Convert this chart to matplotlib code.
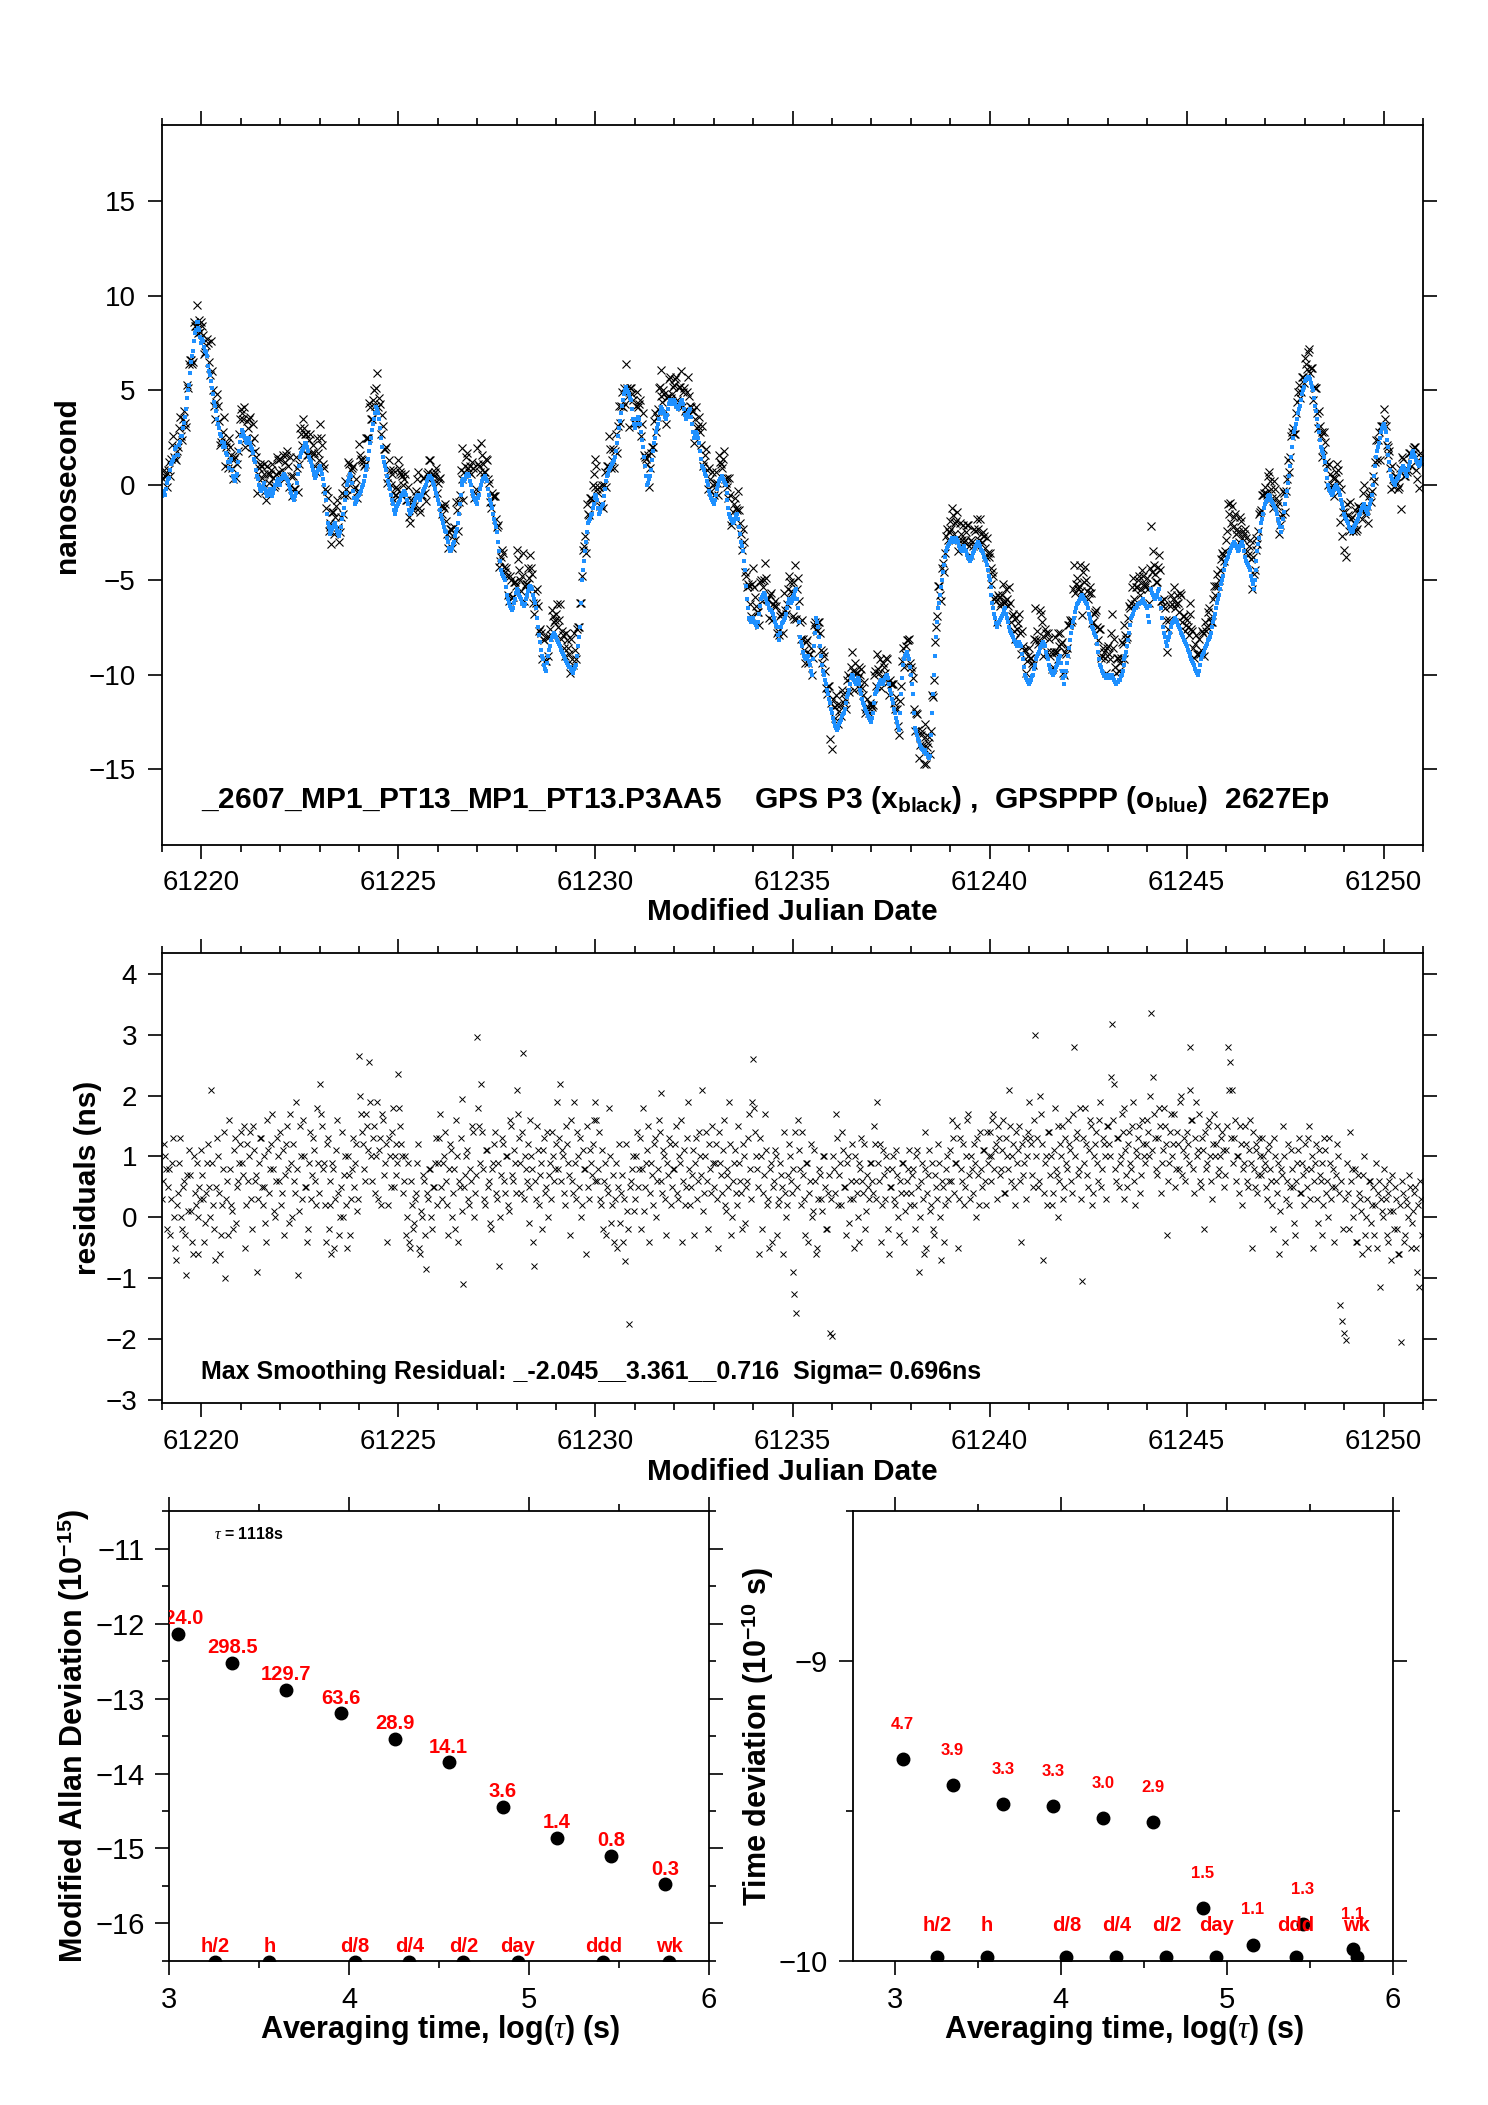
import numpy as np
import matplotlib
matplotlib.use("Agg")
import matplotlib.pyplot as plt
from matplotlib import font_manager as fm
from matplotlib.ticker import MultipleLocator
from matplotlib.transforms import offset_copy

names = {f.name for f in fm.fontManager.ttflist}
SANS = 'Liberation Sans' if 'Liberation Sans' in names else 'DejaVu Sans'
NARROW = 'Liberation Sans Narrow' if 'Liberation Sans Narrow' in names else SANS

plt.rcParams['font.family'] = [SANS, 'DejaVu Sans']
plt.rcParams['mathtext.fontset'] = 'custom'
plt.rcParams['mathtext.rm'] = SANS + ':bold'
plt.rcParams['mathtext.bf'] = SANS + ':bold'
plt.rcParams['mathtext.it'] = 'Liberation Serif:italic'

# ---- data -------------------------------------------------------------
mjd_start = 61219.0
mjd_step = 0.05   # days between samples, a second set sits half a step later

# GPSPPP clock difference (ns), one row per day
ppp_ns = [
    -0.6, -0.4, -0.2, 0.3, 0.8, 1.2, 1.5, 2.0, 1.6, 2.3, 2.6, 3.3, 4.0, 5.0, 5.9, 6.8, 7.6, 8.2, 8.6, 8.2,
    7.5, 7.6, 7.1, 6.8, 6.0, 5.5, 4.8, 4.2, 3.5, 3.0, 2.6, 2.0, 2.0, 1.6, 0.9, 1.4, 0.5, 0.2, 0.6, 1.8,
    2.6, 2.8, 2.5, 2.2, 2.5, 2.0, 1.7, 1.2, 0.5, 0.0, -0.3, -0.1, 0.1, -0.4, -0.5, -0.2, -0.6, -0.2, 0.0, 0.3,
    0.0, 0.4, 0.6, 0.4, 0.2, -0.2, -0.6, -0.8, -0.4, 0.6, 1.5, 1.8, 2.0, 2.2, 1.8, 1.3, 1.0, 0.6, 0.5, 0.8,
    1.0, 0.6, 0.0, -0.8, -2.0, -2.4, -2.5, -2.2, -2.0, -2.4, -2.7, -2.2, -1.5, -0.8, 0.0, 0.4, 0.5, -0.3, -1.0, -0.8,
    -0.5, -0.3, 0.0, 0.5, 1.0, 1.8, 2.5, 3.2, 3.8, 4.0, 3.5, 2.5, 1.5, 1.0, 0.5, 0.0, -0.5, -1.0, -1.5, -1.2,
    -1.0, -0.8, -0.5, -0.3, -0.5, -1.0, -1.5, -1.3, -1.0, -0.7, -0.5, -0.8, -0.5, -0.2, 0.0, 0.4, 0.5, 0.3, 0.0, -0.4,
    -0.8, -1.3, -1.8, -2.2, -2.5, -3.0, -3.5, -3.3, -3.0, -2.5, -2.0, -1.0, 0.0, 0.3, 0.3, 0.6, 0.5, 0.0, -0.5, -0.8,
    -1.0, -0.5, 0.0, 0.3, 0.5, 0.2, -0.5, -1.0, -1.5, -2.0, -2.5, -3.5, -4.5, -4.8, -5.0, -5.8, -6.2, -6.5, -6.5, -6.0,
    -5.5, -5.8, -6.0, -6.3, -6.3, -5.8, -5.5, -5.3, -5.5, -6.0, -6.5, -7.5, -8.3, -9.0, -9.5, -9.8, -9.0, -8.5, -8.0, -7.8,
    -8.0, -8.3, -8.5, -8.8, -9.0, -9.3, -9.5, -9.6, -9.8, -9.7, -9.5, -8.5, -7.5, -5.0, -4.0, -3.0, -2.0, -1.8, -1.5, -1.0,
    -0.5, -0.8, -1.5, -1.2, -1.0, -0.2, 0.5, 0.8, 1.0, 1.2, 1.5, 2.2, 3.0, 3.8, 4.5, 5.0, 5.0, 4.8, 4.5, 3.5,
    3.0, 3.5, 3.5, 2.8, 2.0, 1.0, 0.0, 0.3, 0.8, 1.8, 2.5, 3.0, 3.5, 4.0, 4.0, 3.8, 3.5, 4.0, 4.5, 4.3,
    4.5, 4.2, 4.0, 4.3, 4.5, 4.0, 3.5, 3.8, 4.0, 3.2, 2.5, 2.8, 2.5, 1.8, 1.0, 0.8, 0.5, 0.0, -0.5, -0.8,
    -1.0, -0.5, 0.0, 0.3, 0.5, 0.2, 0.0, -0.8, -1.5, -1.8, -2.0, -1.8, -1.5, -2.2, -3.0, -3.5, -4.5, -6.0, -7.0, -7.2,
    -7.0, -7.3, -7.5, -6.8, -6.0, -5.8, -5.8, -6.2, -6.5, -6.6, -6.8, -7.2, -7.5, -8.2, -7.5, -7.2, -7.0, -6.5, -6.0, -6.2,
    -6.0, -5.8, -5.5, -6.5, -8.0, -8.5, -9.0, -9.2, -9.0, -9.5, -10.0, -8.5, -7.0, -7.5, -8.5, -9.5, -10.0, -10.5, -11.0, -11.5,
    -12.0, -12.5, -12.8, -12.8, -12.5, -12.2, -12.0, -11.5, -11.0, -10.5, -10.0, -10.3, -10.5, -10.2, -10.5, -11.0, -11.5, -11.8, -12.0, -12.3,
    -12.5, -12.0, -11.0, -10.8, -10.5, -10.3, -10.5, -10.2, -10.0, -10.5, -11.0, -11.5, -12.0, -12.5, -12.9, -11.0, -9.5, -9.0, -8.8, -9.2,
    -10.0, -11.0, -12.8, -13.2, -13.5, -13.8, -14.0, -14.0, -14.2, -14.3, -14.3, -12.0, -10.0, -8.0, -6.5, -5.8, -5.0, -4.2, -3.5, -3.2,
    -3.0, -2.8, -3.0, -2.8, -3.0, -3.3, -3.5, -3.2, -3.5, -3.8, -4.0, -3.8, -3.5, -3.2, -3.0, -3.2, -3.5, -3.8, -4.0, -4.5,
    -5.0, -5.8, -6.5, -7.0, -7.5, -7.2, -7.0, -6.8, -6.5, -7.0, -7.5, -7.8, -8.0, -8.3, -8.5, -8.3, -8.5, -9.2, -10.0, -10.3,
    -10.5, -10.3, -10.0, -9.5, -9.0, -8.8, -8.5, -8.3, -8.5, -9.0, -9.5, -9.8, -10.0, -9.8, -9.5, -9.2, -9.0, -9.8, -10.5, -9.8,
    -9.0, -8.2, -7.5, -7.0, -6.5, -6.2, -6.0, -5.8, -6.0, -6.2, -6.5, -7.0, -7.5, -7.8, -8.0, -8.8, -9.5, -9.8, -10.0, -10.2,
    -10.0, -10.2, -10.0, -10.3, -10.5, -10.4, -10.3, -10.0, -9.5, -9.0, -8.5, -7.8, -7.0, -6.8, -6.5, -6.4, -6.3, -6.2, -6.0, -6.3,
    -6.5, -7.2, -5.5, -5.8, -6.0, -5.8, -5.5, -6.5, -7.5, -8.0, -8.5, -8.0, -7.5, -7.2, -7.0, -7.2, -7.5, -7.8, -8.0, -8.3,
    -8.5, -8.8, -9.0, -9.3, -9.5, -9.8, -10.0, -9.5, -9.0, -8.8, -8.5, -8.2, -8.0, -7.5, -7.0, -6.5, -6.0, -5.5, -5.0, -4.5,
    -4.0, -3.8, -3.5, -3.2, -3.0, -3.2, -3.5, -3.2, -3.0, -3.5, -4.0, -4.2, -4.5, -5.0, -5.5, -4.5, -3.5, -2.8, -2.0, -1.5,
    -1.0, -0.8, -0.5, -0.8, -1.0, -1.2, -1.5, -2.0, -2.5, -1.8, -1.0, -0.3, 0.5, 1.5, 2.5, 3.0, 3.5, 4.0, 4.5, 5.0,
    5.5, 5.6, 5.7, 5.4, 5.0, 4.2, 3.5, 2.8, 2.0, 1.8, 1.5, 0.8, 0.0, -0.3, -0.5, -0.2, 0.0, -0.2, -0.5, -1.0,
    -1.5, -1.8, -2.0, -2.3, -2.5, -2.2, -2.0, -1.8, -1.5, -1.2, -1.0, -1.3, -1.5, -1.0, -0.5, 0.5, 1.5, 2.0, 2.5, 3.0,
    3.2, 2.8, 2.0, 1.2, 0.5, 0.2, 0.0, 0.3, 0.5, 0.8, 1.0, 0.8, 0.5, 1.0, 1.5, 1.8, 1.5, 1.2, 1.0, 1.2,
]

# GPSPPP samples half a step later
ppp_mid_ns = [
    -0.3, -0.5, 0.1, 0.4, 1.1, 1.3, 1.9, 1.6, 2.1, 2.6, 3.0, 3.6, 4.6, 5.3, 6.5, 7.1, 8.0, 8.6, 8.3, 7.8,
    7.7, 7.3, 7.0, 6.3, 5.8, 5.1, 4.4, 3.9, 3.2, 2.7, 2.3, 2.2, 1.7, 1.2, 1.2, 0.8, 0.3, 0.5, 1.2, 2.3,
    2.9, 2.6, 2.3, 2.4, 2.2, 1.9, 1.4, 0.8, 0.3, -0.2, -0.1, 0.1, -0.2, -0.6, -0.3, -0.4, -0.4, 0.0, 0.2, 0.1,
    0.3, 0.5, 0.5, 0.3, 0.0, -0.4, -0.7, -0.6, 0.1, 1.0, 1.7, 1.9, 2.2, 2.0, 1.5, 1.2, 0.8, 0.4, 0.7, 0.9,
    0.8, 0.3, -0.4, -1.5, -2.2, -2.6, -2.3, -2.1, -2.2, -2.6, -2.5, -1.8, -1.2, -0.4, 0.2, 0.6, 0.1, -0.7, -0.9, -0.6,
    -0.4, -0.1, 0.2, 0.8, 1.4, 2.2, 2.9, 3.5, 4.1, 3.8, 3.0, 2.0, 1.2, 0.8, 0.2, -0.2, -0.8, -1.3, -1.3, -1.1,
    -0.9, -0.6, -0.4, -0.4, -0.8, -1.3, -1.4, -1.1, -0.8, -0.6, -0.7, -0.6, -0.3, -0.1, 0.2, 0.5, 0.4, 0.1, -0.2, -0.6,
    -1.0, -1.6, -2.0, -2.4, -2.8, -3.3, -3.4, -3.1, -2.7, -2.3, -1.5, -0.5, 0.2, 0.2, 0.5, 0.6, 0.2, -0.3, -0.7, -0.9,
    -0.7, -0.2, 0.2, 0.4, 0.3, -0.2, -0.8, -1.2, -1.8, -2.2, -3.0, -4.0, -4.7, -4.9, -5.4, -6.0, -6.4, -6.6, -6.2, -5.7,
    -5.6, -5.9, -6.2, -6.4, -6.0, -5.6, -5.4, -5.4, -5.8, -6.2, -7.0, -7.9, -8.7, -9.2, -9.7, -9.4, -8.7, -8.2, -7.9, -7.9,
    -8.2, -8.4, -8.7, -8.9, -9.2, -9.4, -9.6, -9.7, -9.9, -9.6, -9.0, -8.0, -6.2, -4.5, -3.5, -2.5, -1.9, -1.6, -1.2, -0.7,
    -0.6, -1.2, -1.4, -1.1, -0.6, 0.2, 0.6, 0.9, 1.1, 1.3, 1.8, 2.6, 3.4, 4.2, 4.8, 5.2, 4.9, 4.6, 4.0, 3.2,
    3.2, 3.6, 3.2, 2.4, 1.5, 0.5, 0.1, 0.5, 1.3, 2.2, 2.8, 3.2, 3.8, 4.1, 3.9, 3.6, 3.7, 4.3, 4.4, 4.4,
    4.4, 4.1, 4.2, 4.4, 4.3, 3.7, 3.6, 3.9, 3.6, 2.8, 2.6, 2.7, 2.2, 1.4, 0.9, 0.6, 0.2, -0.3, -0.7, -0.9,
    -0.8, -0.2, 0.2, 0.4, 0.3, 0.1, -0.4, -1.2, -1.7, -1.9, -1.9, -1.6, -1.8, -2.6, -3.2, -4.0, -5.3, -6.5, -7.1, -7.1,
    -7.2, -7.4, -7.2, -6.4, -5.9, -5.7, -6.0, -6.3, -6.6, -6.7, -7.0, -7.4, -7.9, -7.8, -7.3, -7.1, -6.8, -6.2, -6.1, -6.1,
    -5.9, -5.6, -6.0, -7.2, -8.3, -8.8, -9.1, -9.1, -9.3, -9.8, -9.2, -7.8, -7.2, -8.0, -9.0, -9.8, -10.3, -10.8, -11.3, -11.8,
    -12.3, -12.7, -12.9, -12.6, -12.4, -12.1, -11.8, -11.2, -10.8, -10.2, -10.1, -10.4, -10.3, -10.3, -10.8, -11.3, -11.6, -11.9, -12.2, -12.4,
    -12.3, -11.5, -10.9, -10.6, -10.4, -10.4, -10.3, -10.1, -10.2, -10.8, -11.3, -11.8, -12.3, -12.7, -12.0, -10.2, -9.2, -8.9, -9.0, -9.6,
    -10.5, -12.0, -13.0, -13.4, -13.7, -13.9, -14.1, -14.1, -14.2, -14.4, -13.2, -11.0, -9.0, -7.2, -6.2, -5.4, -4.6, -3.8, -3.3, -3.1,
    -2.9, -2.9, -2.9, -2.9, -3.2, -3.4, -3.3, -3.4, -3.7, -3.9, -3.9, -3.6, -3.3, -3.1, -3.1, -3.4, -3.6, -3.9, -4.2, -4.8,
    -5.4, -6.2, -6.8, -7.3, -7.3, -7.1, -6.9, -6.6, -6.8, -7.2, -7.7, -7.9, -8.2, -8.4, -8.4, -8.4, -8.9, -9.6, -10.2, -10.4,
    -10.4, -10.1, -9.7, -9.2, -8.9, -8.6, -8.4, -8.4, -8.8, -9.2, -9.7, -9.9, -9.9, -9.6, -9.3, -9.1, -9.4, -10.2, -10.1, -9.4,
    -8.6, -7.8, -7.2, -6.7, -6.3, -6.1, -5.9, -5.9, -6.1, -6.3, -6.8, -7.2, -7.6, -7.9, -8.4, -9.2, -9.6, -9.9, -10.1, -10.1,
    -10.1, -10.1, -10.2, -10.4, -10.4, -10.3, -10.1, -9.8, -9.2, -8.8, -8.2, -7.4, -6.9, -6.6, -6.5, -6.3, -6.2, -6.1, -6.2, -6.4,
    -6.9, -6.4, -5.7, -5.9, -5.9, -5.6, -6.0, -7.0, -7.8, -8.3, -8.2, -7.8, -7.3, -7.1, -7.1, -7.4, -7.6, -7.9, -8.2, -8.4,
    -8.7, -8.9, -9.2, -9.4, -9.7, -9.9, -9.8, -9.2, -8.9, -8.6, -8.4, -8.1, -7.8, -7.2, -6.8, -6.2, -5.8, -5.2, -4.8, -4.2,
    -3.9, -3.6, -3.3, -3.1, -3.1, -3.3, -3.4, -3.1, -3.2, -3.8, -4.1, -4.3, -4.8, -5.2, -5.0, -4.0, -3.1, -2.4, -1.8, -1.2,
    -0.9, -0.6, -0.6, -0.9, -1.1, -1.3, -1.8, -2.2, -2.2, -1.4, -0.6, 0.1, 1.0, 2.0, 2.8, 3.2, 3.8, 4.2, 4.8, 5.2,
    5.6, 5.7, 5.6, 5.2, 4.6, 3.9, 3.1, 2.4, 1.9, 1.7, 1.2, 0.4, -0.2, -0.4, -0.4, -0.1, -0.1, -0.3, -0.8, -1.2,
    -1.7, -1.9, -2.2, -2.4, -2.4, -2.1, -1.9, -1.6, -1.3, -1.1, -1.2, -1.4, -1.2, -0.8, 0.0, 1.0, 1.8, 2.2, 2.8, 3.1,
    3.0, 2.4, 1.6, 0.8, 0.3, 0.1, 0.2, 0.4, 0.7, 0.9, 0.9, 0.6, 0.8, 1.2, 1.7, 1.6, 1.3, 1.1, 1.1, 1.4,
]

# P3 minus PPP residuals (ns) at the ppp_ns times
resid_ns = [
    0.3, 1.2, 0.8, 0.5, -0.3, 0.9, 0.0, -0.7, 0.4, 1.3, -0.2, 0.6, -0.95, 0.1, 0.7, -0.4, 1.0, 0.2, -0.6, 0.5,
    1.1, 0.3, -0.1, 0.9, 0.5, 2.1, 0.2, -0.7, 1.3, 0.4, -0.3, 0.8, -1.0, 0.6, 1.6, 0.2, -0.2, 1.3, 0.5, 0.9,
    1.4, 0.7, -0.5, 1.2, 1.0, 0.3, 1.5, 0.6, -0.9, 0.9, 1.3, 0.2, 0.5, -0.4, 1.1, 0.8, 1.7, 0.1, 0.6, 1.0,
    1.4, 0.4, -0.3, 1.2, 0.8, 1.7, 0.0, 0.6, 1.9, -0.95, 1.5, 0.3, 1.0, 0.5, -0.2, 1.4, 0.7, 1.1, 0.2, 0.9,
    2.2, 1.5, 0.9, -0.4, 1.3, 0.2, -0.6, 0.8, 0.3, 1.6, -0.3, 0.5, 0.0, 1.0, -0.5, 0.7, 0.3, 1.3, 0.9, 0.1,
    2.65, 1.7, 1.2, 0.6, 1.5, 2.55, 1.0, 1.3, 0.4, 1.9, 1.1, 0.2, 1.6, 0.9, -0.4, 1.3, 0.5, 1.8, 1.0, 0.7,
    2.35, 1.5, 1.0, 0.6, -0.3, 0.9, -0.5, 0.2, -0.1, 0.4, 1.2, -0.6, 0.0, 0.6, -0.85, 0.3, 0.8, -0.2, 0.5, 1.3,
    0.9, 1.7, 0.3, 1.0, 0.6, -0.3, 1.2, 0.0, 0.8, 1.6, -0.4, 0.5, 1.95, -1.1, 0.7, 1.1, 0.2, 0.6, 1.4, 0.4,
    2.97, 1.5, 2.2, 0.8, 0.2, 1.1, 0.6, -0.2, 0.9, 1.4, 0.3, -0.8, 0.7, 1.2, 0.4, 1.0, 0.1, 1.5, 0.6, 0.9,
    2.1, 1.3, 0.4, 2.7, 1.0, 0.6, -0.1, 1.6, 0.8, -0.8, 0.3, 1.1, 0.7, -0.2, 1.3, 0.5, 0.0, 0.9, 1.4, 0.6,
    1.2, 0.8, 2.2, 1.1, 0.4, 1.5, 0.9, -0.3, 0.6, 1.9, 0.3, 1.0, 1.3, 0.2, 0.8, -0.6, 0.5, 1.1, 0.7, 1.6,
    1.9, 0.6, 1.4, 0.2, -0.2, 0.9, 0.5, 1.8, -0.1, 0.7, 0.3, -0.5, 1.2, 0.4, -0.4, -0.72, 0.1, -1.75, 0.6, 1.0,
    0.3, 1.4, 0.8, -0.2, 1.8, 0.5, 1.1, -0.4, 0.9, 0.2, 1.3, 0.6, 1.6, 2.05, 0.4, 1.0, -0.3, 0.7, 1.2, 0.5,
    0.8, 1.5, 0.3, 0.9, -0.4, 1.1, 0.5, 1.9, 0.2, 0.7, -0.3, 1.3, 0.6, 1.0, 2.1, 0.4, 1.4, -0.2, 0.8, 1.5,
    0.5, 1.2, -0.5, 0.9, 0.4, 1.6, 0.1, 0.7, 1.9, -0.3, 0.6, 1.1, 0.2, 0.9, 0.4, 1.2, -0.1, 0.6, 1.7, 0.3,
    2.6, 1.4, 0.8, -0.6, 1.0, 0.4, 1.7, 0.2, -0.5, 0.9, 0.5, 1.1, -0.3, 0.3, 0.7, -0.6, 0.4, 0.2, 1.2, 0.6,
    -0.9, -1.26, -1.58, 1.6, 0.8, 1.4, 0.3, 0.9, -0.4, 0.6, 0.0, 1.1, -0.6, 0.3, 0.7, 0.1, 1.0, -0.2, 0.4, -1.9,
    -1.95, 0.8, 1.7, 0.2, 0.9, 1.4, 0.5, -0.3, 1.0, 0.3, 1.2, -0.5, 0.6, 0.0, 0.9, 1.3, 0.4, -0.2, 0.7, 0.3,
    0.9, 0.4, 1.2, 1.9, 0.6, -0.4, 1.1, 0.3, 0.8, -0.6, 0.5, 1.0, 0.2, 0.7, -0.3, 0.4, 0.9, 0.1, 0.6, 1.1,
    0.4, 0.8, -0.2, 1.1, -0.9, 0.6, 0.3, 1.4, -0.5, 0.7, 0.1, 0.9, -0.3, 0.5, 1.2, 0.0, 0.6, -0.4, 0.8, 0.3,
    1.1, 1.6, 0.4, 0.9, -0.5, 1.3, 0.6, 0.2, 1.0, 1.7, 0.3, 0.8, 1.2, 0.0, 0.7, 1.4, 0.5, 1.1, 0.2, 0.9,
    1.4, 0.6, 1.7, 1.1, 0.3, 1.3, 0.8, 1.6, 0.4, 1.0, 2.1, 0.6, 1.2, 0.2, 0.9, 1.5, -0.4, 0.7, 1.3, 1.0,
    1.9, 1.2, 0.5, 3.0, 1.3, 0.6, 1.7, -0.7, 0.9, 0.2, 1.4, 1.0, 0.4, 1.8, 0.7, 0.0, 1.2, 1.5, 0.5, 0.9,
    1.6, 1.1, 0.4, 2.8, 1.3, 0.7, 1.8, -1.05, 0.9, 1.2, 0.5, 1.6, 0.2, 1.0, 1.4, 0.6, 1.9, 0.8, 1.2, 0.3,
    1.5, 1.0, 3.18, 2.2, 0.6, 1.3, 0.9, 1.7, 0.3, 1.1, 0.5, 1.4, 0.8, 1.9, 0.2, 1.0, 1.5, 0.7, 1.2, 0.9,
    1.6, 1.0, 3.36, 2.3, 1.3, 0.7, 1.8, 0.4, 1.1, 1.5, -0.3, 0.9, 1.7, 1.2, 0.5, 1.4, 0.8, 2.0, 1.1, 0.6,
    1.4, 0.9, 2.8, 1.6, 0.4, 1.9, 1.1, 0.6, 1.3, -0.2, 0.8, 1.5, 1.0, 0.3, 1.7, 1.2, 0.7, 1.0, 1.4, 0.5,
    1.1, 2.8, 2.55, 2.1, 1.3, 0.6, 1.0, 1.5, 0.2, 0.9, 1.2, 0.5, 1.6, -0.5, 0.8, 1.1, 0.4, 1.3, 0.7, 1.0,
    0.9, 0.3, 1.2, 0.6, -0.2, 1.0, 0.4, -0.6, 0.8, 1.5, -0.4, 0.6, 0.2, 1.1, 0.5, -0.3, 0.9, 1.3, 0.4, 0.7,
    1.2, 0.5, 1.5, 0.8, -0.5, 0.9, 0.3, 1.1, 0.6, -0.3, 1.3, 0.4, 0.0, 0.9, 0.5, -0.4, 0.7, 1.0, -1.45, -1.7,
    -1.9, -2.02, 0.4, 1.4, 0.8, 0.2, -0.4, 0.7, 0.3, -0.6, 1.0, 0.0, -0.5, 0.6, 0.2, -0.3, 0.9, 0.4, -1.15, 0.1,
    0.8, 0.3, -0.4, 0.6, -0.7, 0.1, 0.5, -0.2, -0.6, -2.05, 0.4, -0.3, 0.2, 0.7, -0.5, 0.1, 0.5, -0.9, -1.15, 0.3,
]

# residuals at the ppp_mid_ns times
resid_mid_ns = [
    0.6, 1.0, -0.2, 0.8, 0.3, 1.3, -0.5, 0.2, 0.9, 0.0, 0.5, -0.3, 0.7, 1.1, 0.1, -0.6, 0.4, 0.9, 0.0, 0.3,
    0.7, -0.4, 0.4, 1.2, 0.0, 0.9, -0.2, 0.5, 1.0, -0.6, 0.2, 1.4, 0.3, -0.3, 0.8, 0.1, 1.1, -0.1, 0.6, 1.2,
    0.9, 1.5, 0.2, 0.6, 1.4, -0.2, 1.1, 0.7, 0.3, 1.3, 0.5, 1.0, -0.1, 1.6, 0.4, 1.2, 0.8, 0.0, 1.3, 0.6,
    0.2, 1.1, 0.7, 1.5, -0.1, 0.9, 1.2, 0.4, 0.8, 0.1, 1.0, 1.6, 0.5, -0.4, 0.9, 0.3, 1.3, 0.6, 1.8, 0.4,
    1.7, 0.8, 0.2, 1.2, -0.2, 0.6, 0.9, -0.5, 1.1, 0.4, 0.0, 1.4, 0.7, 0.2, 1.0, -0.3, 0.8, 0.5, 1.2, 0.3,
    2.0, 1.4, 0.8, 1.7, 1.1, 1.9, 0.6, 1.5, 1.0, 0.3, 1.3, 1.7, 0.7, 1.2, 0.2, 1.0, 1.4, 0.5, 1.2, 0.9,
    1.8, 1.2, 0.4, 1.0, 0.0, -0.4, 0.6, -0.2, 0.3, 0.9, -0.5, 0.1, 0.7, -0.3, 0.4, 0.8, 0.0, 0.5, 0.9, 0.2,
    1.3, 0.5, 0.9, 1.4, 0.2, 0.8, 1.1, 0.4, -0.2, 1.0, 0.6, 1.3, 0.1, 0.5, 1.0, 0.3, 0.8, 1.5, 0.0, 0.7,
    1.8, 0.9, 1.4, 0.3, 1.1, 0.5, -0.1, 0.8, 1.2, 0.4, 0.9, 0.0, 1.3, 0.6, 1.0, 0.2, 1.6, 0.7, 1.1, 0.4,
    1.7, 0.9, 1.4, 0.3, 0.8, 1.2, 0.5, 1.0, -0.4, 0.6, 1.5, 0.2, 0.9, 1.1, 0.4, 1.4, 0.7, 0.3, 1.0, 0.8,
    1.9, 1.3, 0.6, 1.0, 0.2, 1.2, 0.7, 1.6, 0.4, 0.9, 1.4, 0.5, 0.0, 1.1, 0.8, 1.5, 0.3, 0.9, 1.2, 0.6,
    1.6, 0.8, 0.3, 1.1, 0.6, -0.3, 0.4, 1.0, 0.2, -0.4, 0.9, 0.5, -0.1, 0.7, 0.3, 1.2, -0.2, 0.5, 0.8, 0.1,
    1.0, 0.5, 1.3, 0.8, 0.1, 0.9, 1.5, 0.4, 0.7, 1.2, 0.0, 0.8, 1.4, 0.6, 1.1, 0.3, 0.9, 1.3, 0.2, 0.8,
    1.2, 0.4, 1.0, 1.6, 0.6, 0.2, 1.3, 0.8, 0.5, 1.1, 0.9, 0.3, 1.4, 0.7, 0.1, 1.0, 0.6, 1.2, 0.4, 0.9,
    0.9, 0.3, 1.4, 0.7, 1.1, 0.2, 0.8, 0.5, 1.2, 0.0, 0.9, 0.4, 1.5, 0.6, -0.2, 1.0, 0.5, 1.3, 0.8, 1.9,
    1.8, 1.0, 0.5, 1.3, -0.2, 0.7, 1.1, 0.3, 0.8, -0.4, 0.6, 1.0, 0.2, 0.9, 0.5, 1.4, 0.0, 0.7, 1.0, 0.4,
    0.8, 1.4, 0.5, 1.1, 0.2, 0.7, -0.3, 0.9, 0.4, 1.2, 0.1, 0.6, -0.5, 0.8, 0.3, 1.0, 0.5, -0.2, 0.7, 0.3,
    1.0, 0.4, 1.3, 0.7, 0.2, 1.1, 0.5, 0.9, -0.1, 0.6, 0.3, 1.0, 0.4, -0.4, 0.8, 0.6, 1.2, 0.1, 0.5, 0.9,
    0.6, 1.5, 0.3, 0.9, 1.2, 0.2, 0.7, 1.0, -0.2, 0.5, 0.8, 0.3, 1.1, 0.0, 0.6, 0.9, -0.4, 0.4, 0.8, 0.2,
    0.7, 0.2, 1.0, 0.5, 0.0, 0.9, -0.6, 0.8, 0.4, 1.1, 0.2, -0.2, 0.7, 0.3, 0.9, -0.7, 0.5, 0.2, 1.0, 0.6,
    0.6, 1.3, 0.9, 1.5, 0.3, 0.8, 1.2, 0.5, 1.6, 0.7, 1.0, 0.4, 0.9, 1.3, 0.2, 0.8, 1.1, 0.6, 1.4, 1.0,
    1.0, 1.6, 0.8, 1.2, 1.5, 0.7, 1.1, 0.4, 1.3, 0.8, 1.5, 1.0, 0.5, 1.4, 1.1, 0.6, 1.2, 0.9, 0.3, 1.4,
    1.3, 0.7, 1.6, 1.0, 0.5, 2.0, 1.2, 0.4, 1.0, 1.4, 0.7, 0.2, 1.1, 0.8, 1.5, 0.6, 1.0, 0.3, 1.3, 0.8,
    1.2, 0.6, 1.7, 1.0, 1.4, 0.8, 0.3, 1.3, 1.8, 0.7, 1.1, 1.5, 0.4, 1.2, 0.9, 1.6, 0.5, 1.3, 1.0, 1.5,
    1.2, 2.3, 1.6, 0.8, 1.3, 0.5, 1.0, 1.4, 1.8, 0.7, 1.2, 0.9, 1.5, 0.6, 1.1, 1.3, 0.4, 1.6, 1.0, 1.2,
    1.4, 2.0, 1.1, 1.7, 0.8, 1.3, 1.5, 0.9, 1.8, 1.2, 0.6, 1.4, 1.0, 1.7, 0.8, 1.2, 1.9, 0.7, 1.3, 1.0,
    1.2, 2.1, 1.6, 0.8, 1.3, 1.0, 1.7, 0.5, 1.1, 1.4, 0.9, 1.6, 0.6, 1.2, 1.0, 1.5, 0.8, 1.3, 1.1, 0.7,
    1.5, 2.1, 1.3, 0.9, 1.6, 1.0, 0.4, 1.2, 0.8, 1.5, 0.6, 1.1, 0.9, 1.4, 0.5, 1.2, 0.7, 1.0, 1.3, 0.8,
    0.5, 1.1, 0.8, 0.2, 1.3, 0.6, 0.9, 0.1, 0.7, 1.0, 0.3, 1.2, 0.5, 0.8, -0.1, 0.6, 1.1, 0.4, 0.9, 0.2,
    0.8, 1.3, 0.3, 1.0, 0.6, 1.2, -0.1, 0.7, 0.9, 0.2, 1.1, 0.6, 1.3, 0.3, 0.8, 0.5, 1.2, 0.4, 0.6, -0.2,
    0.3, 0.9, -0.2, 0.6, 0.0, 0.8, -0.4, 0.4, 0.1, 0.7, -0.3, 0.3, 0.6, -0.1, 0.5, 0.2, -0.5, 0.6, 0.3, 0.0,
    0.5, -0.3, 0.4, 0.1, 0.7, -0.2, 0.3, -0.6, 0.2, 0.6, -0.4, 0.3, 0.0, 0.5, -0.1, 0.4, -0.5, 0.2, 0.6, -0.3,
]

# stability results
tau_s = [1118, 2236, 4472, 8944, 17888, 35776, 71552, 143104, 286208, 572416]
mdev_log = [-12.14, -12.525, -12.887, -13.197, -13.539, -13.85, -14.444, -14.854, -15.097, -15.48]
mdev_lbl = ["724.0", "298.5", "129.7", "63.6", "28.9", "14.1", "3.6", "1.4", "0.8", "0.3"]
tdev_log = [-9.328, -9.414, -9.476, -9.483, -9.524, -9.536, -9.825, -9.946, -9.877, -9.96]
tdev_lbl = ["4.7", "3.9", "3.3", "3.3", "3.0", "2.9", "1.5", "1.1", "1.3", "1.1"]
mark_tau_s = [1800, 3600, 10800, 21600, 43200, 86400, 259200, 604800]
mark_lbl = ["h/2", "h", "d/8", "d/4", "d/2", "day", "ddd", "wk"]

title_top = ("_2607_MP1_PT13_MP1_PT13.P3AA5    GPS P3 (x$_{\\mathrm{black}}$) ,  "
             "GPSPPP (o$_{\\mathrm{blue}}$)  2627Ep")
resid_note = "Max Smoothing Residual: _-2.045__3.361__0.716  Sigma= 0.696ns"

# ---- figure -----------------------------------------------------------
mjd = mjd_start + mjd_step * np.arange(len(ppp_ns))
mjd_mid = mjd + mjd_step / 2
mjd_all = np.concatenate([mjd, mjd_mid])
ppp = np.concatenate([ppp_ns, ppp_mid_ns])
res = np.concatenate([resid_ns, resid_mid_ns])
p3 = ppp + res

fig = plt.figure(figsize=(14.88, 21.05), dpi=100)


def style_axes(ax, fs):
    ax.tick_params(which='both', direction='out', top=True, right=True,
                   labelsize=fs, width=1.2)
    ax.tick_params(which='major', length=10)
    ax.tick_params(which='minor', length=5)
    for s in ax.spines.values():
        s.set_linewidth(1.3)


# top panel
ax1 = fig.add_axes([0.1089, 0.5985, 0.8474, 0.3421])
ax1.plot(mjd_all, p3, 'x', color='black', ms=5.5, mew=0.8)
ax1.plot(mjd_all, ppp, 's', color='#1e90ff', ms=2.4, mew=0)
ax1.set_xlim(61219.0, 61251.0)
ax1.set_ylim(-19, 19)
ax1.xaxis.set_major_locator(MultipleLocator(5))
ax1.xaxis.set_minor_locator(MultipleLocator(1))
ax1.yaxis.set_major_locator(MultipleLocator(5))
style_axes(ax1, 20)
ax1.tick_params(axis='x', pad=8)
ax1.tick_params(axis='y', pad=9)
ax1.ticklabel_format(useOffset=False)
ax1.text(61220.0, -16.6, title_top, fontsize=21.5, fontweight='bold', va='center')
fig.text(0.5325, 0.5667, "Modified Julian Date", fontsize=21.5, fontweight='bold',
         ha='center', va='center')
fig.text(0.045, 0.7696, "nanosecond", fontsize=21.5, fontweight='bold',
         ha='center', va='center', rotation=90)

# residual panel
ax2 = fig.add_axes([0.1089, 0.3337, 0.8474, 0.2136])
ax2.plot(mjd_all, res, 'x', color='black', ms=5, mew=0.7)
ax2.set_xlim(61219.0, 61251.0)
ax2.set_ylim(-3.05, 4.35)
ax2.xaxis.set_major_locator(MultipleLocator(5))
ax2.xaxis.set_minor_locator(MultipleLocator(1))
ax2.yaxis.set_major_locator(MultipleLocator(1))
style_axes(ax2, 20)
ax2.tick_params(axis='x', pad=9)
ax2.tick_params(axis='y', pad=8)
ax2.ticklabel_format(useOffset=False)
ax2.text(61220.0, -2.55, resid_note, fontsize=18, fontweight='bold',
         family=[NARROW, 'DejaVu Sans'], va='center')
fig.text(0.5325, 0.3007, "Modified Julian Date", fontsize=21.5, fontweight='bold',
         ha='center', va='center')
fig.text(0.0591, 0.4404, "residuals (ns)", fontsize=21.5, fontweight='bold',
         ha='center', va='center', rotation=90)

x_tau = np.log10(tau_s)
x_mark = np.log10(mark_tau_s)

# modified Allan deviation
ax3 = fig.add_axes([0.1139, 0.0685, 0.3624, 0.2135])
ax3.plot(x_tau, mdev_log, 'o', color='black', ms=9)
ax3.set_xlim(3, 6)
ax3.set_ylim(-16.5, -10.5)
ax3.plot(x_mark, [ax3.get_ylim()[0] - 0.02] * len(x_mark), 'o', color='black', ms=9)
tr3 = offset_copy(ax3.transData, fig=fig, x=0, y=11, units='points')
for xv, yv, lb in zip(x_tau, mdev_log, mdev_lbl):
    t = ax3.text(xv, yv, lb, transform=tr3, color='red', fontsize=14.5, fontweight='bold',
                 ha='center', va='center', clip_on=True)
    t.set_clip_box(ax3.bbox)
for xv, lb in zip(x_mark, mark_lbl):
    ax3.text(xv, -16.31, lb, color='red', fontsize=14.5, fontweight='bold',
             ha='center', va='center')
ax3.text(3.25, -10.8, "$\\tau$ = 1118s", fontsize=11.5, fontweight='bold', va='center')
ax3.xaxis.set_major_locator(MultipleLocator(1))
ax3.xaxis.set_minor_locator(MultipleLocator(0.5))
ax3.yaxis.set_major_locator(MultipleLocator(1))
ax3.yaxis.set_minor_locator(MultipleLocator(0.5))
style_axes(ax3, 21)
ax3.tick_params(axis='x', pad=8)
ax3.tick_params(axis='y', pad=8)
fig.text(0.2957, 0.0356, "Averaging time, log($\\tau$) (s)", fontsize=22,
         fontweight='bold', ha='center', va='center')
fig.text(0.0494, 0.1753, "Modified Allan Deviation (10$^{-15}$)", fontsize=22,
         fontweight='bold', ha='center', va='center', rotation=90)

# time deviation
ax4 = fig.add_axes([0.5733, 0.0685, 0.3629, 0.2135])
ax4.plot(x_tau, tdev_log, 'o', color='black', ms=9)
ax4.set_xlim(2.75, 6.0)
ax4.set_ylim(-10.0, -8.5)
ax4.plot(x_mark, [ax4.get_ylim()[0] + 0.012] * len(x_mark), 'o', color='black', ms=9)
tr4 = offset_copy(ax4.transData, fig=fig, x=0, y=25, units='points')
for xv, yv, lb in zip(x_tau, tdev_log, tdev_lbl):
    ax4.text(xv, yv, lb, transform=tr4, color='red', fontsize=12, fontweight='bold',
             ha='center', va='center')
for xv, lb in zip(x_mark, mark_lbl):
    ax4.text(xv, -9.881, lb, color='red', fontsize=14.5, fontweight='bold',
             ha='center', va='center')
ax4.xaxis.set_major_locator(MultipleLocator(1))
ax4.xaxis.set_minor_locator(MultipleLocator(0.5))
ax4.yaxis.set_major_locator(MultipleLocator(1))
ax4.yaxis.set_minor_locator(MultipleLocator(0.5))
style_axes(ax4, 21)
ax4.tick_params(axis='x', pad=8)
ax4.tick_params(axis='y', pad=8)
fig.text(0.7554, 0.0356, "Averaging time, log($\\tau$) (s)", fontsize=22,
         fontweight='bold', ha='center', va='center')
fig.text(0.5094, 0.175, "Time deviation (10$^{-10}$ s)", fontsize=22,
         fontweight='bold', ha='center', va='center', rotation=90)

fig.savefig("out.png", dpi=100)
